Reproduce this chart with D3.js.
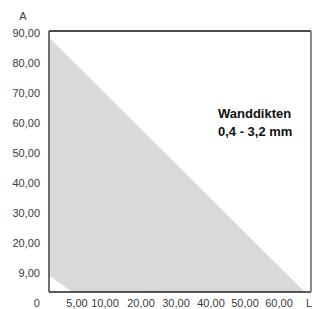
<!DOCTYPE html>
<html>
<head>
<meta charset="utf-8">
<script src="https://cdn.jsdelivr.net/npm/d3@7"></script>
<style>
  html, body { margin: 0; padding: 0; background: #fff; overflow: hidden; }
  svg { display: block; font-family: "Liberation Sans", Arial, sans-serif; }
</style>
</head>
<body>
<svg id="chart" width="313" height="309"></svg>
<script>
// tick labels
var yTicks = [90, 80, 70, 60, 50, 40, 30, 20, 10];
var yTickLabels = ["90,00", "80,00", "70,00", "60,00", "50,00", "40,00", "30,00", "20,00", "9,00"];
var xTicks = [0, 5, 10, 20, 30, 40, 50, 60, 70];
var xTickLabels = ["0", "5,00", "10,00", "20,00", "30,00", "40,00", "50,00", "60,00", "L"];

// envelope of the grey area (x, A)
var areaX = [1.6, 67.8, 4.4, 1.6];
var areaY = [88.3, 3.7, 3.7, 9];

var yUnit = "A";
var note = ["Wanddikten", "0,4 - 3,2 mm"];

var svg = d3.select("#chart");

// the axis is not linear: each tick gets its own place along the bottom
var xRange = [36.7, 77, 105, 141, 176, 211, 245, 279, 312];
var x = d3.scaleLinear().domain(xTicks).range(xRange);
var y = d3.scaleLinear().domain([0, 90]).range([303, 33]);

var box = { left: 49, top: 31, right: 311, bottom: 292 };

// grey area
var pts = areaX.map(function(d, i) { return [x(d), y(areaY[i])]; });
svg.append("path")
  .attr("d", d3.line()(pts) + "Z")
  .attr("fill", "#d9d9d9");

// frame
svg.append("line").attr("x1", box.left).attr("x2", box.right).attr("y1", box.top).attr("y2", box.top)
  .attr("stroke", "#111").attr("stroke-width", 1.3);
svg.append("line").attr("x1", box.left).attr("x2", box.right).attr("y1", box.bottom).attr("y2", box.bottom)
  .attr("stroke", "#222").attr("stroke-width", 1.3);
svg.append("line").attr("x1", box.left).attr("x2", box.left).attr("y1", box.top).attr("y2", box.bottom)
  .attr("stroke", "#222").attr("stroke-width", 1.3);
svg.append("line").attr("x1", box.right).attr("x2", box.right).attr("y1", box.top).attr("y2", box.bottom)
  .attr("stroke", "#8a8a8a").attr("stroke-width", 2);

// y labels
svg.selectAll(".ylab").data(yTicks).enter().append("text")
  .attr("class", "ylab")
  .attr("x", 40)
  .attr("y", function(d) { return y(d); })
  .attr("dy", "0.35em")
  .attr("text-anchor", "end")
  .attr("font-size", 11)
  .attr("fill", "#3a3a3a")
  .text(function(d, i) { return yTickLabels[i]; });

svg.append("text").attr("x", 23).attr("y", 16).attr("dy", "0.35em")
  .attr("text-anchor", "middle").attr("font-size", 11).attr("fill", "#3a3a3a").text(yUnit);

// x labels
svg.selectAll(".xlab").data(xTicks).enter().append("text")
  .attr("class", "xlab")
  .attr("x", function(d) { return x(d); })
  .attr("y", 303)
  .attr("dy", "0.35em")
  .attr("text-anchor", function(d, i) { return i == xTicks.length - 1 ? "end" : "middle"; })
  .attr("font-size", 11)
  .attr("fill", "#3a3a3a")
  .text(function(d, i) { return xTickLabels[i]; });

// note
svg.selectAll(".note").data(note).enter().append("text")
  .attr("class", "note")
  .attr("x", 218)
  .attr("y", function(d, i) { return 113 + i * 18; })
  .attr("dy", "0.35em")
  .attr("font-size", 13)
  .attr("font-weight", "bold")
  .attr("fill", "#111")
  .text(function(d) { return d; });
</script>
</body>
</html>
